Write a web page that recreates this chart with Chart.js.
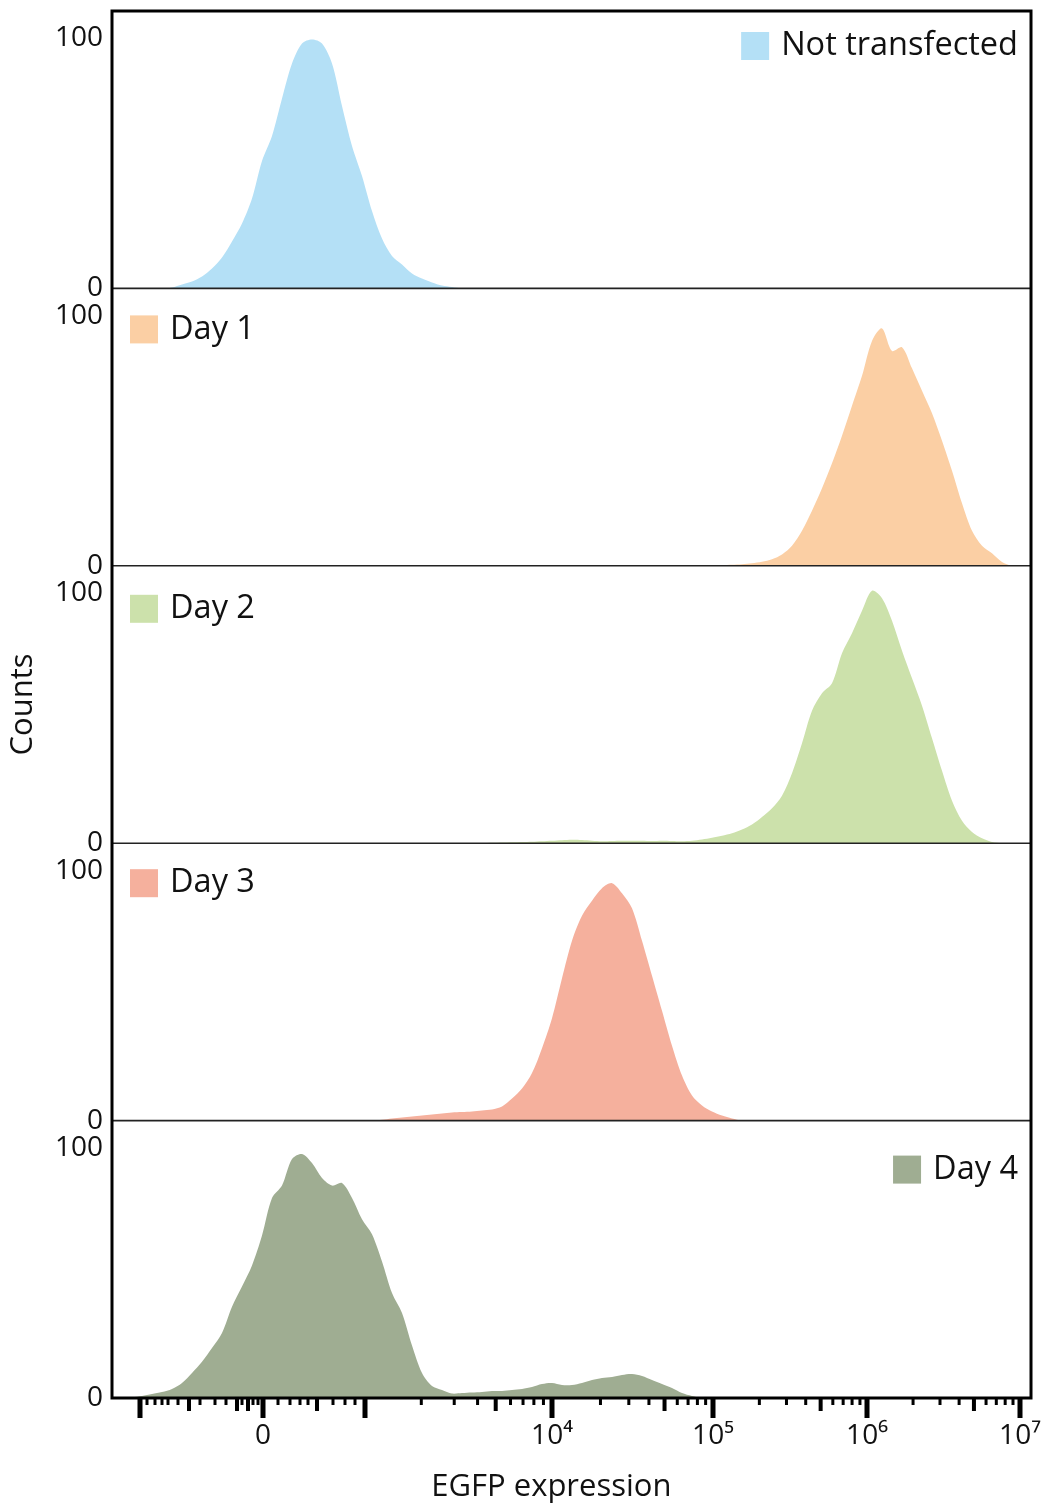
<!DOCTYPE html>
<html>
<head>
<meta charset="utf-8">
<script src="https://cdn.jsdelivr.net/npm/chart.js@4.4.1/dist/chart.umd.min.js"></script>
<style>
  html, body { margin: 0; padding: 0; background: #fff; }
  #wrap { width: 1046px; height: 1506px; position: relative; }
</style>
</head>
<body>
<div id="wrap"><canvas id="egfp"></canvas></div>
<script>
// histogram bins on the display (channel) axis, one every 10 channels
const bins = Array.from({ length: 92 }, (_, i) => i * 10);

const seriesNames = ['Not transfected', 'Day 1', 'Day 2', 'Day 3', 'Day 4'];

const notTransfected = [
  0, 0, 0, 0, 0, 0, 0.4, 1.6, 2.8, 4.8,
  8, 12.4, 18.8, 26, 36, 51, 61, 76, 90, 98,
  99.6, 98, 90, 73, 57, 45, 31, 20, 13, 9.6,
  6, 4, 2.4, 1.2, 0.6, 0, 0, 0, 0, 0,
  0, 0, 0, 0, 0, 0, 0, 0, 0, 0,
  0, 0, 0, 0, 0, 0, 0, 0, 0, 0,
  0, 0, 0, 0, 0, 0, 0, 0, 0, 0,
  0, 0, 0, 0, 0, 0, 0, 0, 0, 0,
  0, 0, 0, 0, 0, 0, 0, 0, 0, 0,
  0, 0
];
const day1 = [
  0, 0, 0, 0, 0, 0, 0, 0, 0, 0,
  0, 0, 0, 0, 0, 0, 0, 0, 0, 0,
  0, 0, 0, 0, 0, 0, 0, 0, 0, 0,
  0, 0, 0, 0, 0, 0, 0, 0, 0, 0,
  0, 0, 0, 0, 0, 0, 0, 0, 0, 0,
  0, 0, 0, 0, 0, 0, 0, 0, 0, 0,
  0, 0.2, 0.4, 0.6, 1, 1.6, 2.6, 4.5, 8, 14,
  22, 31, 41, 52, 64, 76, 90, 95, 86, 87.5,
  79, 70, 61, 50, 38, 25, 14, 8, 5, 1.5,
  0, 0
];
const day2 = [
  0, 0, 0, 0, 0, 0, 0, 0, 0, 0,
  0, 0, 0, 0, 0, 0, 0, 0, 0, 0,
  0, 0, 0, 0, 0, 0, 0, 0, 0, 0,
  0, 0, 0, 0, 0, 0, 0, 0.1, 0.2, 0.3,
  0.4, 0.5, 0.6, 0.8, 1, 1.2, 1.4, 1.3, 1, 0.8,
  0.9, 1, 1, 1, 0.9, 1, 0.9, 0.8, 1, 1.5,
  2.2, 3, 4, 5.5, 7.5, 10.5, 14, 19, 28, 40,
  53, 60, 64, 76, 84, 93, 101, 98, 89, 77,
  66, 55, 42, 29, 17, 9, 4.5, 2, 0.5, 0,
  0, 0
];
const day3 = [
  0, 0, 0, 0, 0, 0, 0, 0, 0, 0,
  0, 0, 0, 0, 0, 0, 0, 0, 0, 0,
  0, 0, 0, 0, 0, 0, 0, 0.3, 0.8, 1.2,
  1.6, 2, 2.4, 2.8, 3.2, 3.4, 3.6, 4, 4.4, 5.6,
  8.8, 12.8, 19, 29, 41, 57, 72, 82, 88, 93,
  95, 91, 85, 72, 58, 44, 30, 18, 10, 6,
  3.6, 2, 0.8, 0, 0, 0, 0, 0, 0, 0,
  0, 0, 0, 0, 0, 0, 0, 0, 0, 0,
  0, 0, 0, 0, 0, 0, 0, 0, 0, 0,
  0, 0
];
const day4 = [
  0, 0, 0.3, 0.8, 1.6, 2.4, 3.6, 6, 10, 14.5,
  20, 26, 36.5, 44.6, 53, 65, 80, 85, 95.6, 97.6,
  94, 88, 85, 86, 80, 71.5, 65.5, 54.6, 42, 34,
  21, 10, 4.8, 3.2, 1.8, 2, 2.2, 2.4, 2.8, 2.8,
  3.2, 3.6, 4.4, 5.6, 6, 5.2, 5.2, 6, 7.2, 8,
  8.4, 9.2, 9.6, 8.8, 7.2, 5.6, 4, 2, 0.8, 0,
  0, 0, 0, 0, 0, 0, 0, 0, 0, 0,
  0, 0, 0, 0, 0, 0, 0, 0, 0, 0,
  0, 0, 0, 0, 0, 0, 0, 0, 0, 0,
  0, 0
];

// x axis (biexponential display): decade positions in channels, labels
const decadeValues = [1e3, 1e4, 1e5, 1e6, 1e7];
const decadeChannels = [253, 440, 601, 755, 908];
const tickLabels = ['0', '10⁴', '10⁵', '10⁶', '10⁷'];
const tickLabelChannels = [151, 440, 601, 755, 908];
// linear part around zero
const lowMajorTicks = [28, 151];
const lowMediumTicks = [77, 125, 136, 205];
const lowMinorTicks = [35, 43, 50, 56, 66, 88, 103, 114, 130, 141, 146, 166, 178, 188, 196, 221, 233, 243];

const colors = ['#b4e0f6', '#fbcfa4', '#cce1ab', '#f5b09d', '#9fad92'];
const seriesData = [notTransfected, day1, day2, day3, day4];
const legendSide = ['end', 'start', 'start', 'start', 'end'];
const legendDrop = [21, 27, 29, 26, 35];

// build tick list
const xTicks = [];
lowMajorTicks.forEach(v => xTicks.push({ value: v, kind: 'major' }));
lowMediumTicks.forEach(v => xTicks.push({ value: v, kind: 'medium' }));
lowMinorTicks.forEach(v => xTicks.push({ value: v, kind: 'minor' }));
decadeChannels.forEach((c, i) => {
  xTicks.push({ value: c, kind: 'major' });
  if (i < decadeChannels.length - 1) {
    const span = decadeChannels[i + 1] - c;
    for (let k = 2; k <= 9; k++) {
      xTicks.push({ value: c + Math.log10(k) * span, kind: k === 5 ? 'medium' : 'minor' });
    }
  }
});
xTicks.sort((a, b) => a.value - b.value);

const tickStyle = { major: { len: 20, w: 5 }, medium: { len: 13, w: 4 }, minor: { len: 7, w: 3 } };

Chart.defaults.font.family = "'Open Sans', 'DejaVu Sans', sans-serif";
Chart.defaults.color = '#111';

const panelIds = ['y1', 'y2', 'y3', 'y4', 'y5'];

const frame = {
  id: 'frame',
  afterDatasetsDraw(chart) {
    const { ctx, chartArea: a } = chart;
    ctx.save();
    ctx.strokeStyle = '#222';
    ctx.lineWidth = 1.6;
    panelIds.slice(0, -1).forEach(id => {
      const y = chart.scales[id].bottom;
      ctx.beginPath();
      ctx.moveTo(a.left, y);
      ctx.lineTo(a.right, y);
      ctx.stroke();
    });
    ctx.strokeStyle = '#000';
    ctx.lineWidth = 3;
    ctx.strokeRect(a.left, a.top, a.right - a.left, a.bottom - a.top);

    // x tick marks of different length
    const xs = chart.scales.x;
    ctx.fillStyle = '#000';
    xs.ticks.forEach(t => {
      const s = tickStyle[t.kind] || tickStyle.minor;
      const px = xs.getPixelForValue(t.value);
      ctx.fillRect(px - s.w / 2, a.bottom, s.w, s.len);
    });

    // one legend entry per panel
    ctx.font = "32.5px 'Open Sans', 'DejaVu Sans', sans-serif";
    ctx.textBaseline = 'middle';
    ctx.textAlign = 'left';
    chart.data.datasets.forEach((ds, i) => {
      const sc = chart.scales[ds.yAxisID];
      const boxTop = sc.top + legendDrop[i];
      const tw = ctx.measureText(ds.label).width;
      const boxX = legendSide[i] === 'end' ? a.right - 13 - tw - 12 - 28 : a.left + 18;
      ctx.fillStyle = ds.backgroundColor;
      ctx.fillRect(boxX, boxTop, 28, 28);
      ctx.fillStyle = '#111';
      ctx.fillText(ds.label, boxX + 40, boxTop + 14);
    });
    ctx.restore();
  }
};

const yScale = (i) => ({
  type: 'linear',
  position: 'left',
  stack: 'panels',
  stackWeight: 1,
  weight: 5 - i,
  min: 0,
  max: 111,
  grid: { display: false, drawTicks: false },
  border: { display: false },
  ticks: { padding: 9, font: { size: 28 }, color: '#111' },
  afterBuildTicks: s => { s.ticks = [{ value: 0 }, { value: 100 }]; },
  afterFit: s => { s.width = 112; s.paddingTop = 0; s.paddingBottom = 0; },
  title: i === 2
    ? { display: true, text: 'Counts', font: { size: 31 }, color: '#111', padding: { top: 5, bottom: 0 } }
    : { display: false }
});

const scales = {
  x: {
    type: 'linear',
    position: 'bottom',
    min: 0,
    max: 919,
    grid: { display: true, drawOnChartArea: false, drawTicks: true, tickLength: 20, color: 'rgba(0,0,0,0)' },
    border: { display: false },
    ticks: {
      autoSkip: false,
      maxRotation: 0,
      padding: 1,
      font: { size: 28 },
      color: '#111',
      callback: (v) => {
        const j = tickLabelChannels.findIndex(c => Math.abs(c - v) < 0.5);
        return j >= 0 ? tickLabels[j] : '';
      }
    },
    afterBuildTicks: s => { s.ticks = xTicks.map(t => ({ value: t.value, kind: t.kind })); },
    afterFit: s => { s.height = 108; },
    title: { display: true, text: 'EGFP expression     ', font: { size: 31 }, color: '#111', padding: { top: 10, bottom: 0 } }
  }
};
panelIds.forEach((id, i) => { scales[id] = yScale(i); });

new Chart(document.getElementById('egfp'), {
  type: 'line',
  data: {
    labels: bins,
    datasets: seriesNames.map((name, i) => ({
      label: name,
      data: seriesData[i],
      yAxisID: panelIds[i],
      backgroundColor: colors[i],
      borderWidth: 0,
      pointRadius: 0,
      fill: 'origin',
      tension: 0.3
    }))
  },
  options: {
    responsive: true,
    maintainAspectRatio: false,
    animation: false,
    layout: { padding: { top: 11, right: 15, bottom: 0, left: 0 } },
    plugins: { legend: { display: false }, tooltip: { enabled: false } },
    scales
  },
  plugins: [frame]
});
</script>
</body>
</html>
